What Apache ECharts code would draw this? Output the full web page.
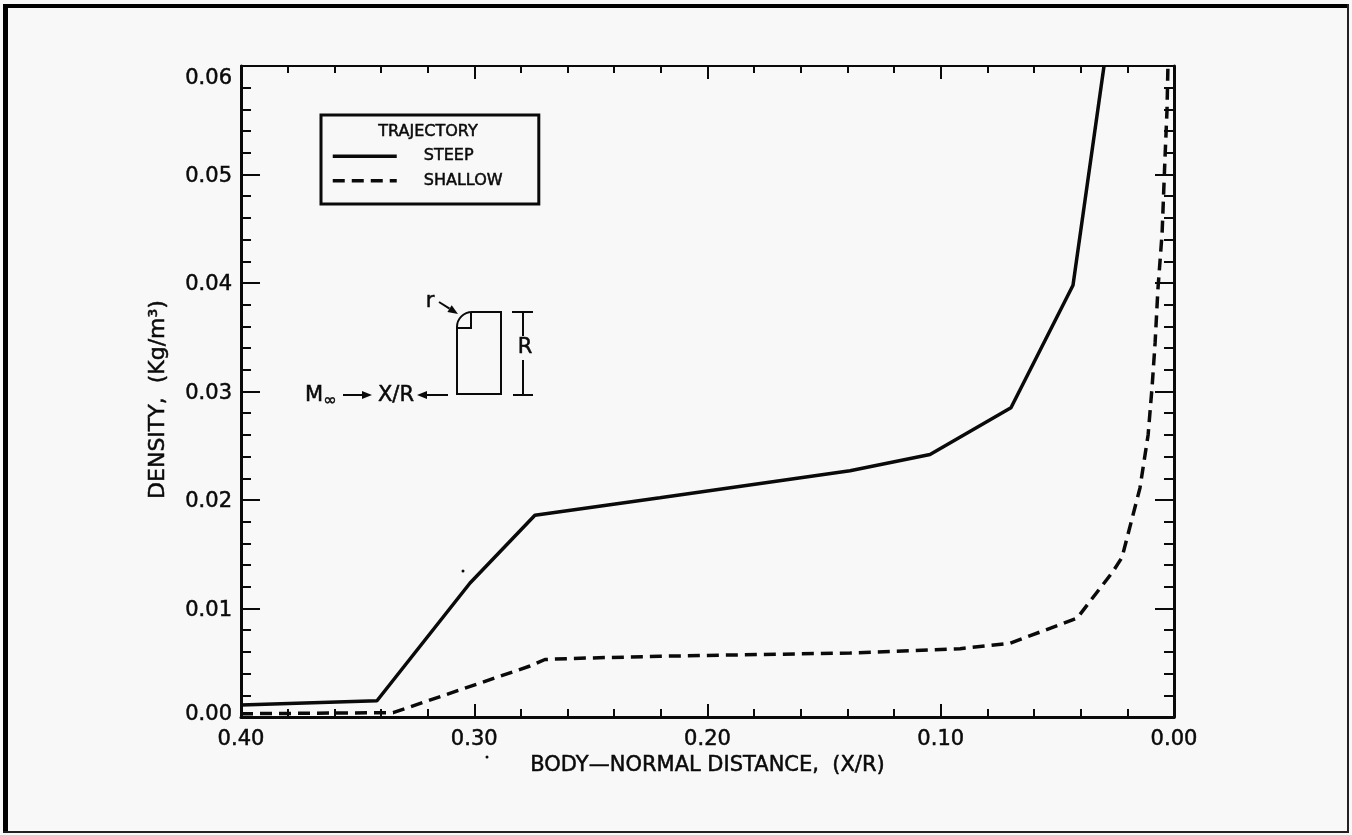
<!DOCTYPE html>
<html>
<head>
<meta charset="utf-8">
<style>
  html, body { margin: 0; padding: 0; background: #f8f8f8; }
  #chart { width: 1352px; height: 835px; }
</style>
</head>
<body>
<div id="chart"></div>
<script src="https://cdn.jsdelivr.net/npm/echarts@6/dist/echarts.min.js"></script>
<script>
const steepX = [0.4, 0.3417, 0.3018, 0.274, 0.2204, 0.1389, 0.1046, 0.0699, 0.0433, 0.03]
const steepY = [0.0011, 0.0015, 0.01235, 0.0186, 0.0202, 0.0227, 0.0242, 0.0285, 0.0398, 0.06]
const shallowX = [0.4, 0.3348, 0.3061, 0.2761, 0.2697, 0.2577, 0.2204, 0.1389, 0.0917, 0.0703, 0.0416, 0.0262, 0.0223, 0.0146, 0.0111, 0.0094, 0.0081, 0.0069, 0.0051, 0.0039, 0.003, 0.0026]
const shallowY = [0.0003, 0.0004, 0.0025, 0.0047, 0.0053, 0.0054, 0.0056, 0.0059, 0.0063, 0.0068, 0.0091, 0.0134, 0.0147, 0.0211, 0.026, 0.0304, 0.0345, 0.0394, 0.0446, 0.0513, 0.0559, 0.06]

const FONT = '"DejaVu Sans", sans-serif'
const INK = '#0a0a0a'
const BOLDISH = { textBorderColor: INK, textBorderWidth: 0.5 }
const TICK_FONT = { fontFamily: FONT, fontSize: 21, color: INK, ...BOLDISH }

const chart = echarts.init(document.getElementById('chart'), null, { renderer: 'canvas' })

const pairs = (xs, ys) => xs.map((x, i) => [x, ys[i]])

// 坐标轴四边都有朝内的刻度
const xAxisBase = (position, showLabel, majorLen, minorLen, lineWidth) => ({
  type: 'value',
  position,
  inverse: true,
  min: 0,
  max: 0.4,
  interval: 0.1,
  splitLine: { show: false },
  axisLine: { show: true, onZero: false, lineStyle: { color: INK, width: lineWidth } },
  axisTick: { show: true, inside: true, length: majorLen, lineStyle: { color: INK, width: 2 } },
  minorTick: { show: true, splitNumber: 5, length: minorLen, lineStyle: { color: INK, width: 2 } },
  axisLabel: { show: showLabel, margin: 12, ...TICK_FONT, formatter: v => v.toFixed(2) }
})

const yLabel = v => {
  const text = v.toFixed(2)
  if (v >= 0.06) return '{top|' + text + '}'
  if (v <= 0) return '{bot|' + text + '}'
  return '{mid|' + text + '}'
}

const yAxisBase = (position, showLabel, lineWidth) => ({
  type: 'value',
  position,
  min: 0,
  max: 0.06,
  interval: 0.01,
  splitLine: { show: false },
  axisLine: { show: true, onZero: false, lineStyle: { color: INK, width: lineWidth } },
  axisTick: { show: true, inside: true, length: 19, lineStyle: { color: INK, width: 2 } },
  minorTick: { show: true, splitNumber: 5, length: 10, lineStyle: { color: INK, width: 2 } },
  axisLabel: {
    show: showLabel,
    margin: 9,
    ...TICK_FONT,
    formatter: yLabel,
    // 0.06 和 0.00 的标签向内错开
    rich: {
      top: { ...TICK_FONT, padding: [26, 0, 0, 0] },
      mid: { ...TICK_FONT, padding: [4, 0, 0, 0] },
      bot: { ...TICK_FONT, padding: [0, 0, 5, 0] }
    }
  }
})

// 左侧小示意图的箭头
const arrow = (x1, y1, x2, y2) => {
  const a = Math.atan2(y2 - y1, x2 - x1)
  const head = 10, half = 4
  const bx = x2 - head * Math.cos(a), by = y2 - head * Math.sin(a)
  const nx = -Math.sin(a) * half, ny = Math.cos(a) * half
  return [
    { type: 'line', shape: { x1, y1, x2: bx, y2: by }, style: { stroke: INK, lineWidth: 2 } },
    { type: 'polygon', shape: { points: [[x2, y2], [bx + nx, by + ny], [bx - nx, by - ny]] }, style: { fill: INK } }
  ]
}

const label = (text, x, y, fontSize) => ({
  type: 'text',
  x,
  y,
  style: {
    text, fontFamily: FONT, fontSize, fill: INK,
    stroke: INK, lineWidth: 0.5,
    align: 'center', verticalAlign: 'middle'
  }
})

const bar = (x1, y1, x2, y2, lineWidth) => ({
  type: 'line',
  shape: { x1, y1, x2, y2 },
  style: { stroke: INK, lineWidth: lineWidth || 2 }
})

const stroke = { fill: 'none', stroke: INK, lineWidth: 2 }

const graphics = [
  // 外框
  { type: 'rect', shape: { x: 3, y: 4, width: 1345, height: 4 }, style: { fill: '#000' } },
  { type: 'rect', shape: { x: 3, y: 4, width: 5, height: 829 }, style: { fill: '#000' } },
  { type: 'rect', shape: { x: 1347, y: 4, width: 2, height: 829 }, style: { fill: '#222' } },
  { type: 'rect', shape: { x: 3, y: 831, width: 1346, height: 2 }, style: { fill: '#222' } },
  // 图例标题
  label('TRAJECTORY', 428, 132, 16),
  // 示意图
  { type: 'polyline', shape: { points: [[457, 327], [457, 394], [501, 394], [501, 312], [472, 312]] }, style: stroke },
  { type: 'polyline', shape: { points: [[457, 328], [471, 328], [471, 312]] }, style: stroke },
  { type: 'arc', shape: { cx: 472, cy: 327, r: 15, startAngle: Math.PI, endAngle: Math.PI * 1.5 }, style: stroke },
  bar(512, 312, 533, 312),
  bar(513, 395, 533, 395),
  bar(523, 312, 523, 336),
  bar(523, 360, 523, 395),
  label('R', 525, 348, 21),
  label('r', 430, 302, 21),
  ...arrow(439, 302, 458, 314),
  label('M', 314, 396, 21),
  label('∞', 330, 401, 16),
  ...arrow(343, 395, 372, 395),
  label('X/R', 396, 396, 21),
  ...arrow(448, 395, 417, 395),
  // 扫描噪点
  { type: 'circle', shape: { cx: 463, cy: 571, r: 1.5 }, style: { fill: INK } },
  { type: 'circle', shape: { cx: 487, cy: 757, r: 1.5 }, style: { fill: INK } }
]

const option = {
  backgroundColor: '#f8f8f8',
  animation: false,
  grid: { left: 241, right: 178, top: 66, bottom: 118 },
  legend: {
    left: 321,
    top: 115,
    orient: 'vertical',
    data: [
      { name: 'STEEP', lineStyle: { width: 3.5 } },
      { name: 'SHALLOW', lineStyle: { width: 3.5 } }
    ],
    itemWidth: 64,
    itemHeight: 14,
    itemGap: 8,
    padding: [33, 36, 15, 10],
    borderColor: INK,
    borderWidth: 3,
    // 折线图例默认带圆点，这里隐藏
    itemStyle: { color: 'transparent', borderWidth: 0, opacity: 0 },
    textStyle: { fontFamily: FONT, fontSize: 16, color: INK, padding: [0, 0, 0, 22], ...BOLDISH }
  },
  xAxis: [
    {
      ...xAxisBase('bottom', true, 13, 8, 3),
      name: 'BODY—NORMAL DISTANCE,  (X/R)',
      nameLocation: 'center',
      nameGap: 35,
      nameTextStyle: { fontFamily: FONT, fontSize: 21, color: INK, ...BOLDISH }
    },
    xAxisBase('top', false, 13, 7, 2)
  ],
  yAxis: [
    {
      ...yAxisBase('left', true, 3),
      name: 'DENSITY,  (Kg/m³)',
      nameLocation: 'center',
      nameGap: 72,
      nameTextStyle: { fontFamily: FONT, fontSize: 22, color: INK, padding: [0, 16, 0, 0], ...BOLDISH }
    },
    yAxisBase('right', false, 3)
  ],
  series: [
    {
      name: 'STEEP',
      type: 'line',
      symbol: 'none',
      data: pairs(steepX, steepY),
      lineStyle: { color: INK, width: 3.5 },
      itemStyle: { color: INK }
    },
    {
      name: 'SHALLOW',
      type: 'line',
      symbol: 'none',
      data: pairs(shallowX, shallowY),
      lineStyle: { color: INK, width: 3.5, type: [12, 7] },
      itemStyle: { color: INK }
    }
  ],
  graphic: graphics
}

chart.setOption(option)
</script>
</body>
</html>
